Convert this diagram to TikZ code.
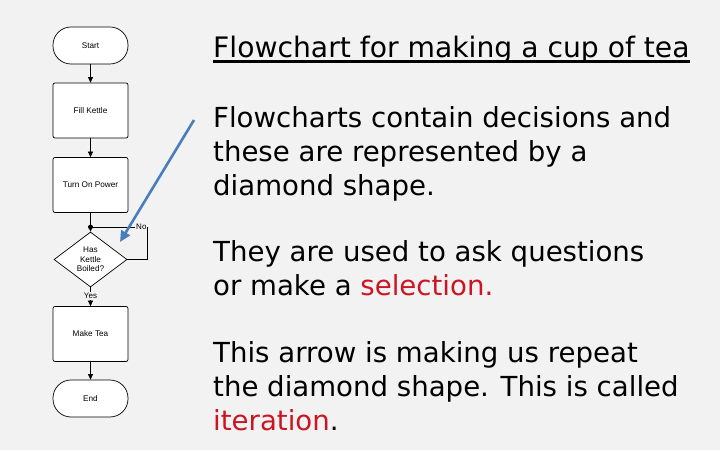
\documentclass[tikz,border=0pt]{standalone}
\usepackage{fontspec}
\setmainfont{DejaVu Sans}
\newfontfamily\chartfont{Liberation Sans}
\usetikzlibrary{shapes.geometric,arrows.meta}
\definecolor{bg}{HTML}{F2F2F2}
\definecolor{hired}{HTML}{CC1422}
\definecolor{pointer}{HTML}{4A7EBB}
\tikzset{
  term/.style={draw=black, fill=white, rounded corners=18pt, minimum width=75pt, minimum height=37pt, inner sep=0pt, font=\chartfont\fontsize{8.2}{9}\selectfont, line width=0.7pt},
  proc/.style={draw=black, fill=white, rounded corners=2pt, minimum width=75pt, minimum height=55pt, inner sep=0pt, font=\chartfont\fontsize{8.2}{9}\selectfont, line width=0.7pt},
  decide/.style={draw=black, fill=white, shape=diamond, aspect=1.33, minimum width=73pt, minimum height=55pt, inner sep=0pt, align=center, font=\chartfont\fontsize{8.2}{9.5}\selectfont, line width=0.7pt},
  flow/.style={line width=0.7pt, -{Triangle[length=5.5pt,width=5pt]}},
  small/.style={font=\chartfont\fontsize{8}{9}\selectfont, inner sep=1pt},
  bigline/.style={anchor=base west, inner sep=0pt, font=\fontsize{27.6}{32}\selectfont},
}
\begin{document}
\begin{tikzpicture}[x=1pt,y=1pt]
\fill[bg] (0,0) rectangle (720,450);
\useasboundingbox (0,0) rectangle (720,450);
% flowchart
\node[term] (start) at (90.5,404.5) {Start};
\node[proc] (fill) at (90.5,339.5) {Fill Kettle};
\node[proc] (power) at (90.5,265) {Turn On Power};
\node[decide] (boiled) at (90.5,190.5) {Has\\Kettle\\Boiled?};
\node[proc] (tea) at (90.5,116) {Make Tea};
\node[term] (end) at (90.5,51.5) {End};
\coordinate (join) at (90.5,223);
\coordinate (loopA) at (147,190.5);
\coordinate (loopB) at (147,223);
\draw[flow] (start) -- (fill);
\draw[flow] (fill) -- (power);
\draw[line width=0.7pt] (power) -- (join);
\draw[flow] (join) -- (boiled);
\draw[flow] (boiled) -- node[small, fill=bg, pos=0.45] (yes) {Yes} (tea);
\draw[flow] (tea) -- (end);
\draw[line width=0.7pt] (boiled.east) -- (loopA) -- (loopB) -- node[small, fill=bg, pos=0.1] (no) {No} (join);
\fill (join) circle (2.4pt);
% blue pointer
\coordinate (ptrA) at (194,330);
\coordinate (ptrB) at (120,208);
\draw[pointer, line width=2.6pt, -{Triangle[length=11pt,width=10pt]}] (ptrA) -- (ptrB);
% text
\node[bigline, font=\fontsize{28.2}{32}\selectfont] (title) at (213,392) {Flowchart for making a cup of tea};
\draw[line width=2.4pt] ([yshift=-3.6pt]title.base west) -- ([yshift=-3.6pt]title.base east);
\node[bigline] (p1a) at (213,322) {Flowcharts contain decisions and};
\node[bigline] (p1b) at (213,288) {these are represented by a};
\node[bigline] (p1c) at (213,254) {diamond shape.};
\node[bigline] (p2a) at (213,188) {They are used to ask questions};
\node[bigline] (p2b) at (213,154) {or make a \textcolor{hired}{selection.}};
\node[bigline] (p3a) at (213,88) {This arrow is making us repeat};
\node[bigline] (p3b) at (213,54) {the diamond shape. This is called};
\node[bigline] (p3c) at (213,20) {\textcolor{hired}{iteration}.};
\end{tikzpicture}
\end{document}
